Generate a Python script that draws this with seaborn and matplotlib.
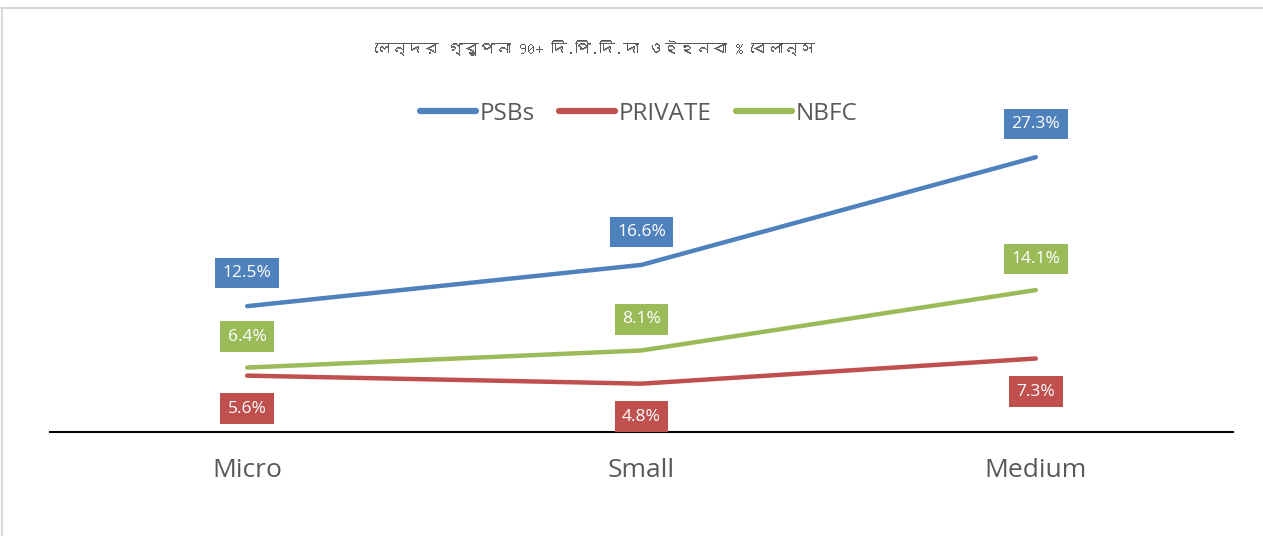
import pandas as pd
import numpy as np
import matplotlib.pyplot as plt
import seaborn as sns
from matplotlib import font_manager
from matplotlib.ft2font import FT2Font

# data
categories = ['Micro', 'Small', 'Medium']
psbs = [12.5, 16.6, 27.3]
private = [5.6, 4.8, 7.3]
nbfc = [6.4, 8.1, 14.1]
series_names = ['PSBs', 'PRIVATE', 'NBFC']
title = 'লেন্দর গ্রুপনা 90+ দি.পি.দি.দা ওইহনবা % বেলান্স'

colors = {'PSBs': '#4F81BD', 'PRIVATE': '#C0504D', 'NBFC': '#9BBB59'}

df = pd.DataFrame({
    'segment': categories * 3,
    'value': psbs + private + nbfc,
    'group': sum([[n] * 3 for n in series_names], []),
})
df['x'] = df['segment'].map({c: i for i, c in enumerate(categories)})


# look for any installed font that covers Bengali script
def find_bengali_family():
    for path in sorted(font_manager.findSystemFonts()):
        try:
            cmap = FT2Font(path).get_charmap()
        except Exception:
            continue
        if ord('ই') in cmap and ord('ল') in cmap:
            try:
                return font_manager.FontProperties(fname=path).get_name()
            except Exception:
                continue
    return None


bengali = find_bengali_family()

sns.set_style('white')
base_fonts = ['Open Sans', 'Noto Sans', 'DejaVu Sans']
plt.rcParams['font.family'] = base_fonts
title_fonts = ([bengali] if bengali else []) + base_fonts

fig = plt.figure(figsize=(12.63, 5.36), dpi=100)
ax = fig.add_axes([50 / 1263, 1 - 432 / 536, 1183 / 1263, 302 / 536])

sns.lineplot(data=df, x='x', y='value', hue='group', hue_order=series_names,
             palette=colors, linewidth=3.2, ax=ax, legend=False)

# data labels in coloured boxes
offsets = {'PSBs': 33, 'PRIVATE': -33, 'NBFC': 31}
for _, row in df.iterrows():
    ax.annotate(f"{row['value']:.1f}%", (row['x'], row['value']),
                xytext=(0, offsets[row['group']] * 0.72), textcoords='offset points',
                ha='center', va='center', color='white', fontsize=12.5,
                bbox=dict(boxstyle='square,pad=0.42', fc=colors[row['group']], ec='none'))

ax.set_xlim(-0.5, 2.5)
ax.set_ylim(0, 30)
ax.set_xticks(range(len(categories)))
ax.set_xticklabels(categories, fontsize=19, color='#595959')
ax.tick_params(axis='x', length=0, pad=19)
ax.set_yticks([])
ax.set_xlabel('')
ax.set_ylabel('')
for s in ['top', 'right', 'left']:
    ax.spines[s].set_visible(False)
ax.spines['bottom'].set_color('black')
ax.spines['bottom'].set_linewidth(1.5)

# legend
handles = [plt.Line2D([0], [0], color=colors[n], lw=4.5, solid_capstyle='round') for n in series_names]
fig.legend(handles, series_names, loc='center', bbox_to_anchor=(639 / 1263, 1 - 114 / 536),
           ncol=3, frameon=False, fontsize=17.5, handlelength=2.3, handletextpad=0.15,
           columnspacing=1.0, labelcolor='#595959')

fig.text(595 / 1263, 1 - 48 / 536, title, ha='center', va='center', fontsize=11.5,
         color='#595959', family=title_fonts)

# chart border (top and left edges only)
fig.add_artist(plt.Line2D([1 / 1263, 1], [1 - 8 / 536] * 2, transform=fig.transFigure,
                          color='#D9D9D9', lw=1.5))
fig.add_artist(plt.Line2D([1.5 / 1263] * 2, [0, 1 - 8 / 536], transform=fig.transFigure,
                          color='#D9D9D9', lw=1.5))

fig.savefig('out.png', dpi=100, facecolor='white')
